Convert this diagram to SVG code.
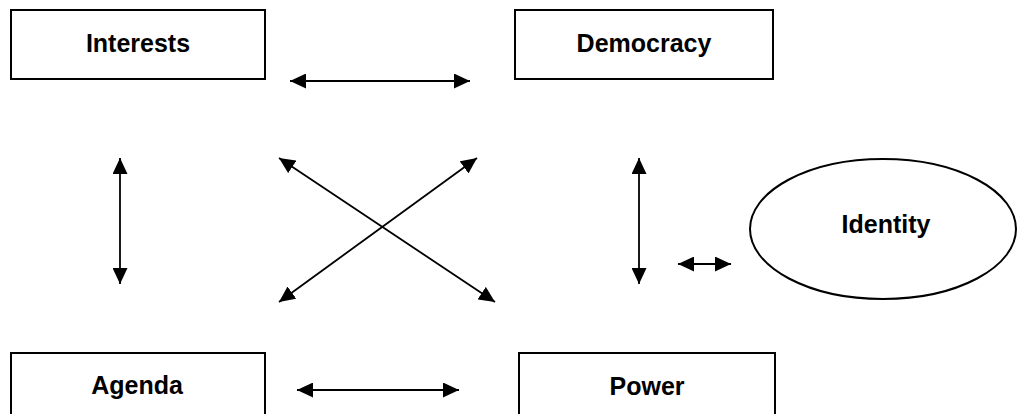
<svg xmlns="http://www.w3.org/2000/svg" width="1018" height="414" viewBox="0 0 1018 414">
<style>
.box{fill:#fff;stroke:#000;stroke-width:2}
.lbl{font-family:"Liberation Sans",Arial,sans-serif;font-weight:bold;font-size:25px;fill:#000;text-anchor:middle}
.con{stroke:#000;stroke-width:1.8;fill:none;marker-start:url(#ah);marker-end:url(#ah)}
</style>
<defs>
<marker id="ah" markerUnits="userSpaceOnUse" markerWidth="16" markerHeight="15" refX="16" refY="7.5" orient="auto-start-reverse" viewBox="0 0 16 15">
<path d="M0,0 L16,7.5 L0,15 z" fill="#000"/>
</marker>
</defs>
<rect width="1018" height="414" fill="#fff"/>
<g id="interests"><rect class="box" x="11" y="10" width="254" height="69"/><text class="lbl" x="138" y="52">Interests</text></g>
<g id="democracy"><rect class="box" x="515" y="10" width="258" height="69"/><text class="lbl" x="644" y="52">Democracy</text></g>
<g id="agenda"><rect class="box" x="11" y="353" width="254" height="70"/><text class="lbl" x="137" y="394">Agenda</text></g>
<g id="power"><rect class="box" x="519" y="353" width="256" height="70"/><text class="lbl" x="647" y="395">Power</text></g>
<g id="identity"><ellipse class="box" cx="883" cy="229" rx="133" ry="70" stroke-width="1.6"/><text class="lbl" x="886" y="233">Identity</text></g>
<g id="connectors">
<line class="con" x1="290" y1="81" x2="470" y2="81"/>
<line class="con" x1="297" y1="390" x2="459" y2="390"/>
<line class="con" x1="120" y1="158" x2="120" y2="284"/>
<line class="con" x1="639" y1="158" x2="639" y2="284"/>
<line class="con" x1="678" y1="264" x2="731" y2="264"/>
<line class="con" x1="279" y1="158" x2="495" y2="302"/>
<line class="con" x1="477" y1="158" x2="279" y2="302"/>
</g>
</svg>
